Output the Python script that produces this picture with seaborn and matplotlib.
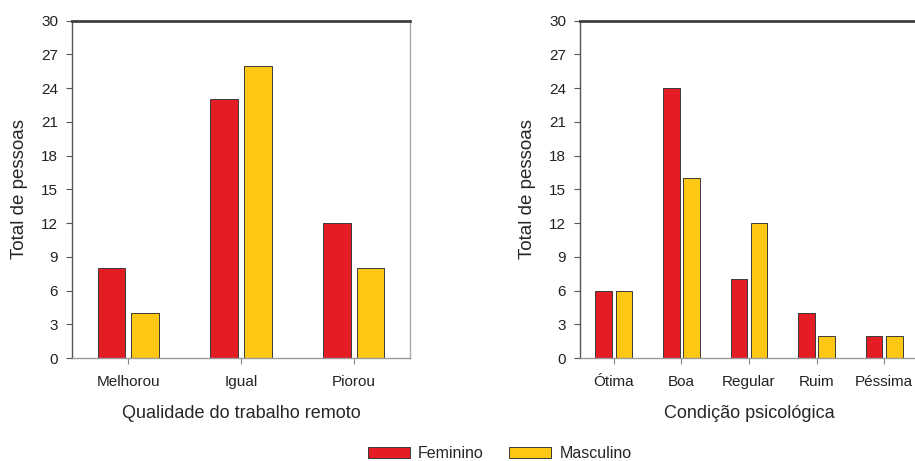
import numpy as np
import pandas as pd
import matplotlib
matplotlib.use("Agg")
import matplotlib.pyplot as plt
import seaborn as sns

sns.set_style("ticks")
plt.rcParams['font.family'] = ['Liberation Sans', 'DejaVu Sans']

# data
sexos = ["Feminino", "Masculino"]
cores = ["#E41C24", "#FDC713"]

qualidade = ["Melhorou", "Igual", "Piorou"]
qualidade_fem = [8, 23, 12]
qualidade_masc = [4, 26, 8]

condicao = ["Ótima", "Boa", "Regular", "Ruim", "Péssima"]
condicao_fem = [6, 24, 7, 4, 2]
condicao_masc = [6, 16, 12, 2, 2]

df1 = pd.DataFrame({
    "cat": qualidade * 2,
    "sexo": [sexos[0]] * 3 + [sexos[1]] * 3,
    "n": qualidade_fem + qualidade_masc,
})
df2 = pd.DataFrame({
    "cat": condicao * 2,
    "sexo": [sexos[0]] * 5 + [sexos[1]] * 5,
    "n": condicao_fem + condicao_masc,
})

fig = plt.figure(figsize=(9.15, 4.61), dpi=100)
W, H = 915, 461
ax1 = fig.add_axes([72 / W, 1 - 358 / H, (410 - 72) / W, (358 - 20.5) / H])
ax2 = fig.add_axes([580 / W, 1 - 358 / H, (918 - 580) / W, (358 - 20.5) / H])

for ax, df, cats, xlabel in [(ax1, df1, qualidade, "Qualidade do trabalho remoto"),
                             (ax2, df2, condicao, "Condição psicológica")]:
    sns.barplot(data=df, x="cat", y="n", hue="sexo", order=cats, hue_order=sexos,
                palette=cores, width=0.6, gap=0.18, edgecolor="#3a3a3a",
                linewidth=0.7, saturation=1, legend=False, ax=ax)
    ax.set_xlim(-0.5, len(cats) - 0.5)
    ax.set_ylim(0, 30)
    ax.set_yticks(np.arange(0, 31, 3))
    ax.set_xlabel(xlabel, fontsize=13)
    ax.set_ylabel("Total de pessoas", fontsize=13.5)
    ax.xaxis.set_label_coords(0.5, (358 - 413) / 337.5)
    ax.xaxis.label.set_verticalalignment("center")
    ax.yaxis.set_label_coords((20 - 72) / 338, 0.5)
    ax.yaxis.label.set_verticalalignment("center")
    ax.tick_params(axis="both", which="major", bottom=True, left=True, labelsize=11,
                   length=4, width=0.8, direction="out", labelcolor="#222222")
    ax.tick_params(axis="x", pad=8.5, color="#888888")
    ax.tick_params(axis="y", pad=6, color="#555555")
    ax.spines["top"].set_color("#404040")
    ax.spines["top"].set_linewidth(2)
    ax.spines["left"].set_color("#555555")
    ax.spines["left"].set_linewidth(1)
    ax.spines["bottom"].set_color("#999999")
    ax.spines["bottom"].set_linewidth(1)
    ax.spines["right"].set_color("#aaaaaa")
    ax.spines["right"].set_linewidth(1)

handles = [plt.Rectangle((0, 0), 1, 1, facecolor=c, edgecolor="#3a3a3a", linewidth=0.7)
           for c in cores]
fig.legend(handles, sexos, loc="center left", bbox_to_anchor=(368 / W, 1 - 453.5 / H),
           ncol=2, frameon=False, fontsize=11.5, handlelength=2.63, handleheight=0.7,
           columnspacing=1.6, handletextpad=0.5, borderpad=0, borderaxespad=0)

fig.savefig("out.png", dpi=100)
